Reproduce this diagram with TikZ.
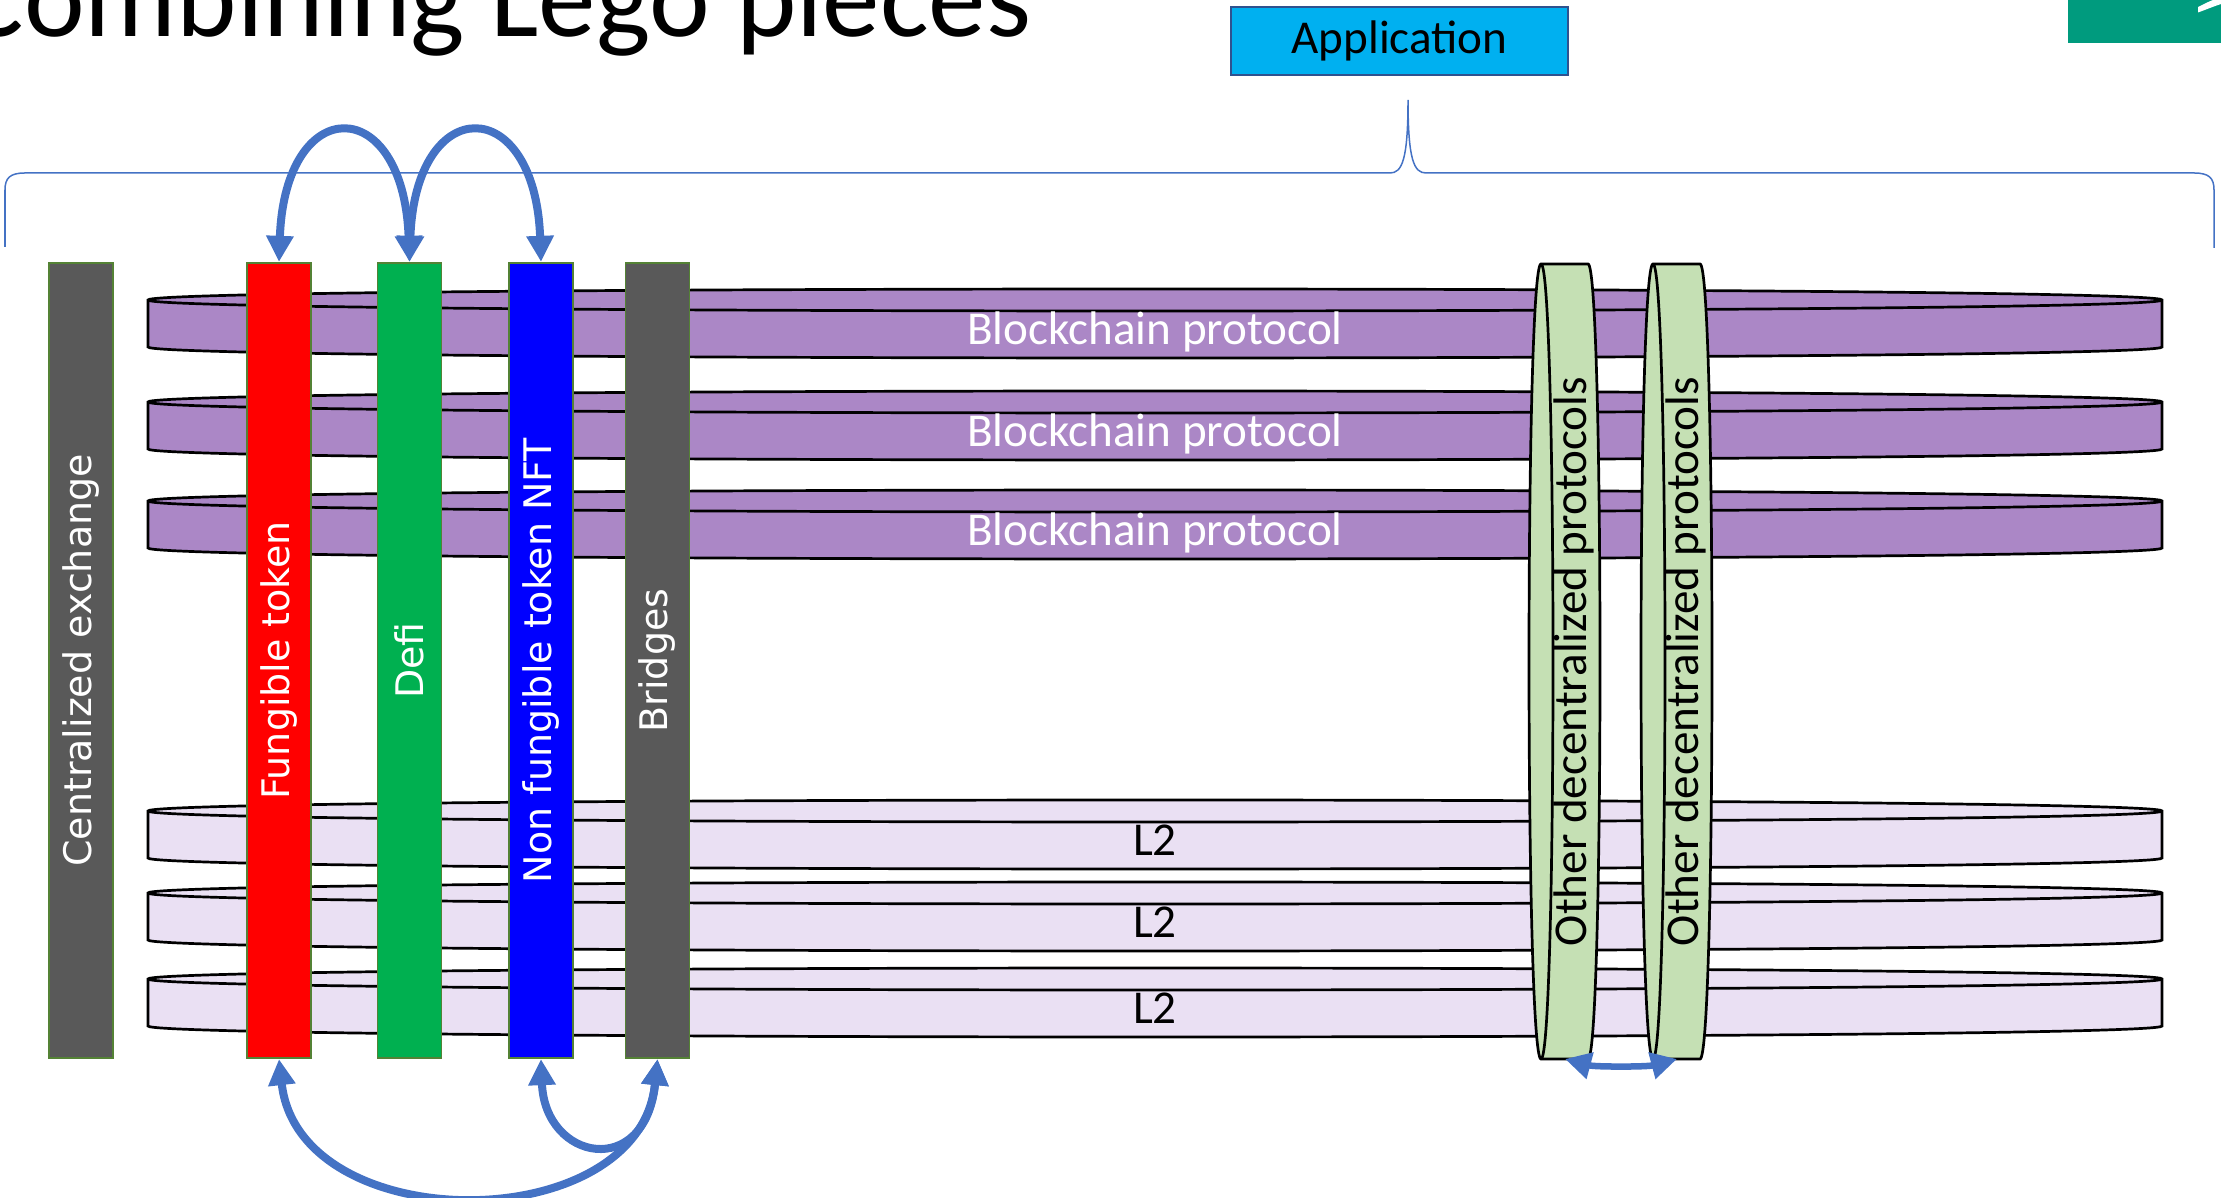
\documentclass[tikz,border=0pt]{standalone}
\usepackage{fontspec}
\usepackage{graphicx}
\setmainfont{Carlito}
\newfontfamily\barfont{DejaVu Sans}
\usetikzlibrary{arrows.meta}

\definecolor{chainpurple}{HTML}{AB87C6}
\definecolor{ltwolilac}{HTML}{EAE0F3}
\definecolor{protogreen}{HTML}{C5E0B4}
\definecolor{edgegreen}{HTML}{548235}
\definecolor{cexgrey}{HTML}{595959}
\definecolor{defigreen}{HTML}{00B050}
\definecolor{appcyan}{HTML}{00B0F0}
\definecolor{appedge}{HTML}{2F528F}
\definecolor{linkblue}{HTML}{4472C4}
\definecolor{slidegreen}{HTML}{009B7E}

\tikzset{
  bar/.style={rectangle, draw=edgegreen, line width=0.018cm, minimum width=0.64cm, minimum height=7.95cm, inner sep=0pt, text=white, font=\barfont\fontsize{10.8pt}{12pt}\selectfont},
  disc/.style={draw=black, line width=0.027cm},
  layertext/.style={inner sep=0pt, font=\fontsize{13.4pt}{16pt}\selectfont},
  link/.style={draw=linkblue, line width=0.08cm, {Triangle[length=0.26cm,width=0.26cm]}-{Triangle[length=0.26cm,width=0.26cm]}},
}

% flat layer disc: name, top y, fill, text colour, text
\newcommand\chainlayer[5]{%
  \filldraw[disc, fill=#3] (148,#2) .. controls (148,#2-14.67) and (2162,#2-14.67) .. (2162,#2)
    -- (2162,#2+47) .. controls (2162,#2+61.67) and (148,#2+61.67) .. (148,#2+47) -- cycle;
  \draw[disc] (148,#2) .. controls (148,#2+14.67) and (2162,#2+14.67) .. (2162,#2);
  \node[layertext, text=#4, anchor=base] (#1) at (1155,#2+45) {#5};
}

% standing protocol cylinder: name, left x
\newcommand\protocolcyl[2]{%
  \filldraw[disc, fill=protogreen] (#2,264) .. controls (#2-16,264) and (#2-16,1059) .. (#2,1059)
    -- (#2+47,1059) .. controls (#2+63,1059) and (#2+63,264) .. (#2+47,264) -- cycle;
  \draw[disc] (#2,264) .. controls (#2+16,264) and (#2+16,1059) .. (#2,1059);
  \node[layertext, rotate=90] (#1) at (#2+33,661.5) {Other decentralized protocols};
  \coordinate (#1 foot) at (#2+24,1059);
}

\begin{document}
\begin{tikzpicture}[x=0.01cm, y=-0.01cm]
  \useasboundingbox (0,0) rectangle (2221,1198);

  % title and slide corner
  \node[anchor=base east, inner sep=0pt, font=\fontsize{32.7pt}{36pt}\selectfont] (title) at (1032,37) {Combining Lego pieces};
  \fill[slidegreen] (2068,0) rectangle (2221,43);
  \fill[white] (2198,7) .. controls (2204,4) and (2210,1) .. (2213,0) -- (2221,0) -- (2221,4)
    .. controls (2212,7) and (2205,10) .. (2198,12.5) -- cycle;

  \node[rectangle, draw=appedge, line width=0.025cm, fill=appcyan, minimum width=3.37cm, minimum height=0.68cm, font=\fontsize{13.4pt}{16pt}\selectfont] (app) at (1399.5,41) {Application};

  % brace under the application box
  \draw[linkblue, line width=0.015cm] (5,247) -- (5,190) .. controls (5,178) and (10,173) .. (25,173)
    -- (1390,173) .. controls (1402,173) and (1408,160) .. (1408,100)
    .. controls (1408,160) and (1414,173) .. (1426,173) -- (2194,173)
    .. controls (2209,173) and (2214,178) .. (2214,190) -- (2214,248);

  % layers
  \chainlayer{chain1}{300}{chainpurple}{white}{Blockchain protocol}
  \chainlayer{chain2}{402}{chainpurple}{white}{Blockchain protocol}
  \chainlayer{chain3}{501}{chainpurple}{white}{Blockchain protocol}
  \chainlayer{ltwo1}{811}{ltwolilac}{black}{L2}
  \chainlayer{ltwo2}{893}{ltwolilac}{black}{L2}
  \chainlayer{ltwo3}{979}{ltwolilac}{black}{L2}

  % bars
  \node[bar, fill=cexgrey] (cex) at (81,660.5) {\rotatebox{90}{Centralized exchange}};
  \node[bar, fill=red] (fung) at (279,660.5) {\rotatebox{90}{Fungible token}};
  \node[bar, fill=defigreen] (defi) at (409.5,660.5) {\rotatebox{90}{Defi}};
  \node[bar, fill=blue] (nft) at (541,660.5) {\rotatebox{90}{Non fungible token NFT}};
  \node[bar, fill=cexgrey] (bridges) at (657.5,660.5) {\rotatebox{90}{Bridges}};

  \protocolcyl{odp1}{1541}
  \protocolcyl{odp2}{1653}

  % connectors
  \draw[link] (fung.north) .. controls +(6,-170) and +(-6,-170) .. (defi.north);
  \draw[link] (defi.north) .. controls +(6,-170) and +(-6,-170) .. (nft.north);
  \draw[link] (fung.south) .. controls +(20,180) and +(-18,180) .. (bridges.south);
  \draw[link] (nft.south) .. controls +(4,102) and +(-12,121) .. (bridges.south);
  \draw[link, line width=0.065cm] (odp1 foot) .. controls +(30,8) and +(-30,8) .. (odp2 foot);
\end{tikzpicture}
\end{document}
